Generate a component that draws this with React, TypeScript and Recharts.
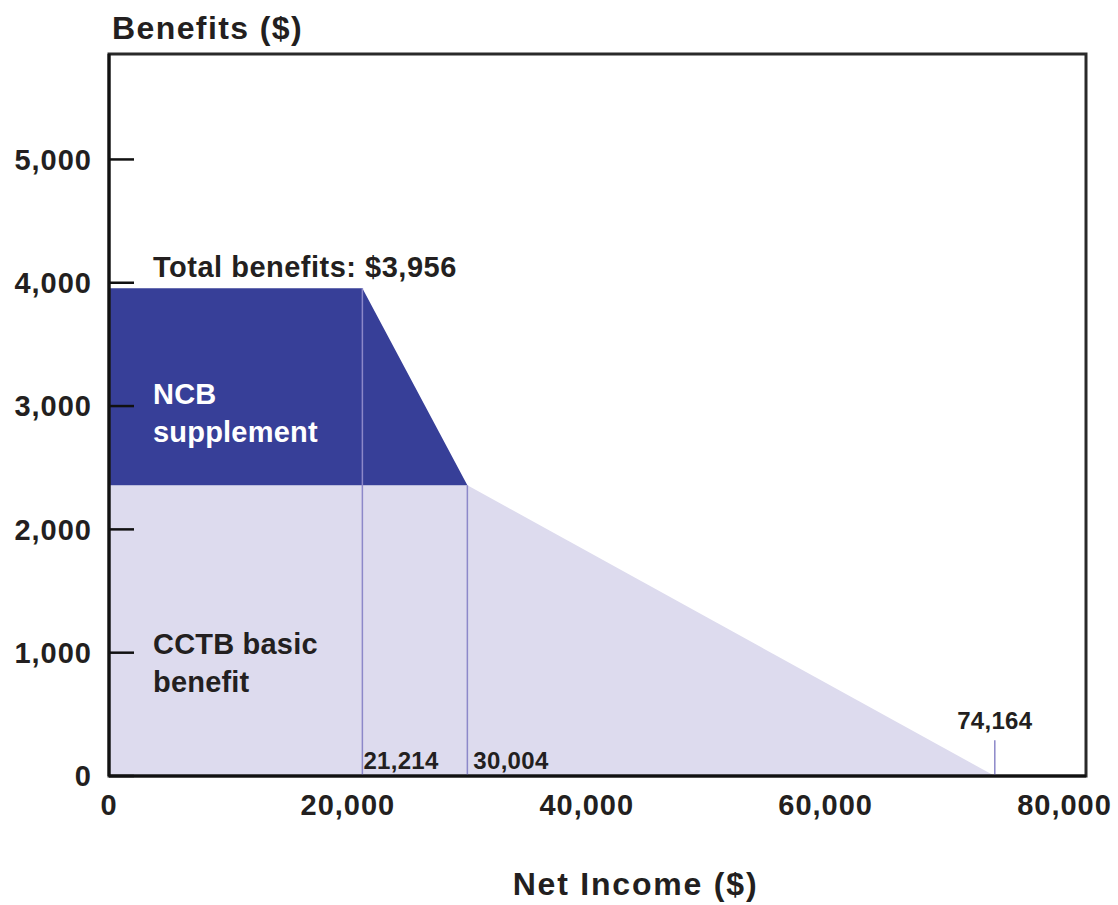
import {
  AreaChart,
  Area,
  XAxis,
  YAxis,
  ReferenceLine,
  ReferenceDot,
  ReferenceArea,
} from "recharts";

// Benefit schedule: break points on net income and the amount of each part at those points
const incomes = [0, 21214, 30004, 74164];
const basicBenefit = [2358, 2358, 2358, 0];
const ncbSupplement = [1598, 1598, 0, 0];
const totalBenefits = 3956;

const xTicks = [0, 20000, 40000, 60000, 80000];
const yTicks = [0, 1000, 2000, 3000, 4000, 5000];

// short marker where the basic benefit runs out
const phaseOutMarker = 290;

const X_MAX = 81800;
const Y_MAX = 5855;

const rows = incomes.map((income, i) => ({
  income,
  basic: basicBenefit[i],
  ncb: ncbSupplement[i],
}));

const FONT = '"Liberation Sans", Arial, Helvetica, sans-serif';
const INK = "#231f20";
const DARK = "#373f98";
const LIGHT = "#dddbee";
const RULE = "#8c88c9";

const fmt = (v: number) => v.toLocaleString("en-US");

function YTick({ x, y, payload }: any) {
  return (
    <g>
      <line x1={x} x2={x + 25} y1={y} y2={y} stroke="#111" strokeWidth={2.5} />
      <text
        x={x - 17}
        y={y}
        dy="0.36em"
        textAnchor="end"
        fontFamily={FONT}
        fontWeight={700}
        fontSize={29}
        letterSpacing={1}
        fill={INK}
      >
        {fmt(payload.value)}
      </text>
    </g>
  );
}

function XTick({ x, y, payload }: any) {
  return (
    <text
      x={x}
      y={y + 29}
      dy="0.36em"
      textAnchor="middle"
      fontFamily={FONT}
      fontWeight={700}
      fontSize={29}
      letterSpacing={1}
      fill={INK}
    >
      {fmt(payload.value)}
    </text>
  );
}

// text lines hung off a reference dot, offsets in px from the dot
function textAt(
  lines: { text: string; dx: number; dy: number }[],
  opts: { size: number; fill: string; anchor?: string; spacing?: number }
) {
  return (p: any) => (
    <g>
      {lines.map((l) => (
        <text
          key={l.text}
          x={p.cx + l.dx}
          y={p.cy + l.dy}
          textAnchor={opts.anchor ?? "start"}
          fontFamily={FONT}
          fontWeight={700}
          fontSize={opts.size}
          letterSpacing={opts.spacing ?? 0.4}
          fill={opts.fill}
        >
          {l.text}
        </text>
      ))}
    </g>
  );
}

export default function App() {
  return (
    <div style={{ position: "absolute", left: 0, top: 0, background: "#fff" }}>
      <AreaChart
        width={1118}
        height={905}
        data={rows}
        margin={{ top: 54, right: 32, bottom: 0, left: 0 }}
      >
        <XAxis
          type="number"
          dataKey="income"
          domain={[0, X_MAX]}
          ticks={xTicks}
          height={129}
          tickLine={false}
          tickSize={0}
          tickMargin={0}
          tick={<XTick />}
          axisLine={{ stroke: "#111", strokeWidth: 3 }}
          allowDataOverflow
          label={{
            value: "Net Income ($)",
            content: ({ viewBox }: any) => (
              <text
                x={viewBox.x + viewBox.width / 2 + 38}
                y={viewBox.y + 119}
                textAnchor="middle"
                fontFamily={FONT}
                fontWeight={700}
                fontSize={32}
                letterSpacing={1.8}
                fill={INK}
              >
                Net Income ($)
              </text>
            ),
          }}
        />
        <YAxis
          type="number"
          domain={[0, Y_MAX]}
          ticks={yTicks}
          width={109}
          tickLine={false}
          tickSize={0}
          tickMargin={0}
          tick={<YTick />}
          axisLine={{ stroke: "#111", strokeWidth: 3 }}
          allowDataOverflow
          label={{
            value: "Benefits ($)",
            content: ({ viewBox }: any) => (
              <text
                x={viewBox.x + viewBox.width + 3}
                y={viewBox.y - 15}
                textAnchor="start"
                fontFamily={FONT}
                fontWeight={700}
                fontSize={32}
                letterSpacing={1.4}
                fill={INK}
              >
                Benefits ($)
              </text>
            ),
          }}
        />
        <Area
          type="linear"
          dataKey="basic"
          stackId="benefit"
          stroke="none"
          fill={LIGHT}
          fillOpacity={1}
          isAnimationActive={false}
        />
        <Area
          type="linear"
          dataKey="ncb"
          stackId="benefit"
          stroke="none"
          fill={DARK}
          fillOpacity={1}
          isAnimationActive={false}
        />
        <ReferenceArea
          x1={0}
          x2={X_MAX}
          y1={0}
          y2={Y_MAX}
          fill="none"
          stroke="#2a2a2a"
          strokeWidth={3}
          ifOverflow="visible"
        />
        <ReferenceLine
          segment={[
            { x: incomes[1], y: 0 },
            { x: incomes[1], y: totalBenefits },
          ]}
          stroke={RULE}
          strokeWidth={1.5}
        />
        <ReferenceLine
          segment={[
            { x: incomes[2], y: 0 },
            { x: incomes[2], y: basicBenefit[2] },
          ]}
          stroke={RULE}
          strokeWidth={1.5}
        />
        <ReferenceLine
          segment={[
            { x: incomes[3], y: 0 },
            { x: incomes[3], y: phaseOutMarker },
          ]}
          stroke={RULE}
          strokeWidth={1.5}
        />
        <ReferenceDot
          x={0}
          y={totalBenefits}
          r={0}
          shape={textAt(
            [
              { text: `Total benefits: $${fmt(totalBenefits)}`, dx: 44, dy: -11 },
            ],
            { size: 29, fill: INK, spacing: 0.5 }
          )}
        />
        <ReferenceDot
          x={0}
          y={totalBenefits}
          r={0}
          shape={textAt(
            [
              { text: "NCB", dx: 44, dy: 116 },
              { text: "supplement", dx: 44, dy: 154 },
            ],
            { size: 29, fill: "#ffffff", spacing: 0.2 }
          )}
        />
        <ReferenceDot
          x={0}
          y={basicBenefit[0]}
          r={0}
          shape={textAt(
            [
              { text: "CCTB basic", dx: 44, dy: 169 },
              { text: "benefit", dx: 44, dy: 207 },
            ],
            { size: 29, fill: INK, spacing: 0.2 }
          )}
        />
        <ReferenceDot
          x={incomes[1]}
          y={0}
          r={0}
          shape={textAt([{ text: fmt(incomes[1]), dx: 1, dy: -7 }], {
            size: 24,
            fill: INK,
            spacing: 0.3,
          })}
        />
        <ReferenceDot
          x={incomes[2]}
          y={0}
          r={0}
          shape={textAt([{ text: fmt(incomes[2]), dx: 6, dy: -7 }], {
            size: 24,
            fill: INK,
            spacing: 0.3,
          })}
        />
        <ReferenceDot
          x={incomes[3]}
          y={0}
          r={0}
          shape={textAt([{ text: fmt(incomes[3]), dx: 0, dy: -47 }], {
            size: 24,
            fill: INK,
            anchor: "middle",
            spacing: 0.3,
          })}
        />
      </AreaChart>
    </div>
  );
}
